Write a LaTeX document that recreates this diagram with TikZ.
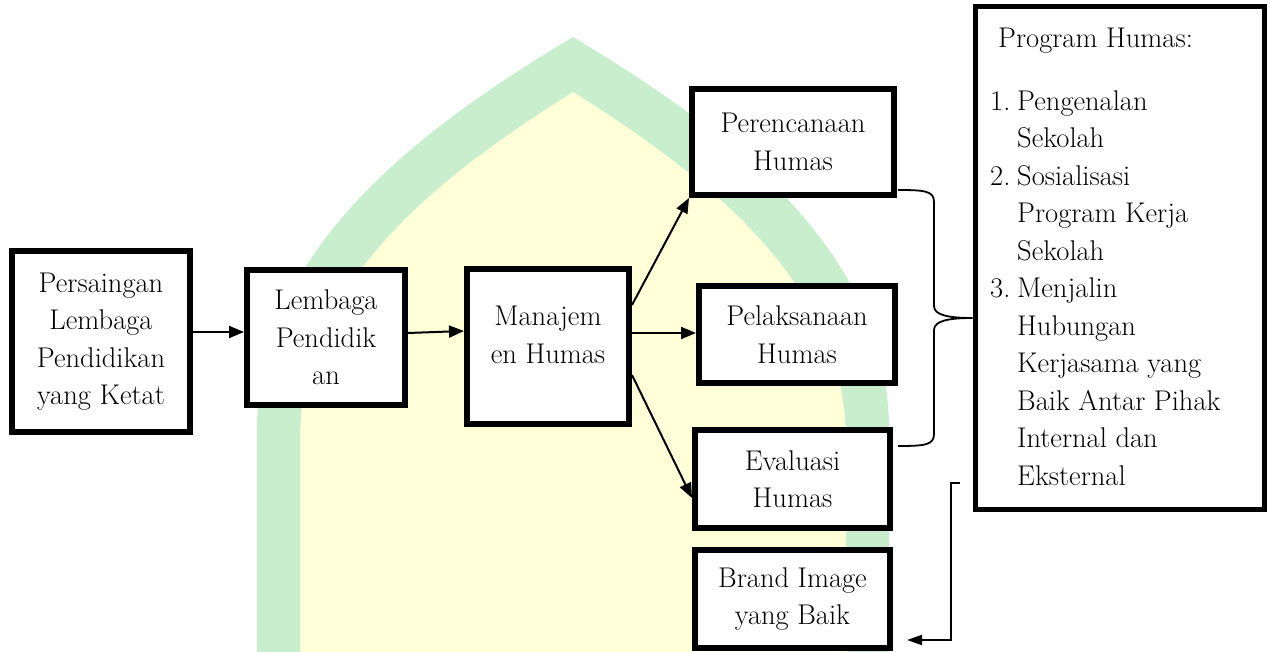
\documentclass[tikz,border=0pt]{standalone}
\usetikzlibrary{arrows.meta,calc}
\definecolor{wmgreen}{RGB}{200,238,205}
\definecolor{wmyellow}{RGB}{255,255,216}
\begin{document}
\begin{tikzpicture}[x=1pt,y=-1pt,
  box/.style={draw=black, line width=6pt, fill=white, align=center, inner sep=0pt,
    font=\fontsize{28.5}{37.5}\selectfont},
  txt/.style={align=center, inner sep=0pt, font=\fontsize{28.5}{37.5}\selectfont},
  conn/.style={line width=2pt, -{Triangle[length=15pt,width=12pt]}},
  thinline/.style={line width=1.8pt}
]
\useasboundingbox (0,0) rectangle (1270,652);
% watermark arch
\fill[wmgreen] (257,652) -- (257,430) .. controls (257,250) and (418,130) .. (573,37)
  .. controls (728,130) and (889,250) .. (889,430) -- (889,652) -- cycle;
\fill[wmyellow] (300,652) -- (300,440) .. controls (300,280) and (446,172) .. (573,92)
  .. controls (700,172) and (846,280) .. (846,440) -- (846,652) -- cycle;

% boxes
\node[box, minimum width=178pt, minimum height=181pt] (a) at (101,341.5)
  {Persaingan\\Lembaga\\Pendidikan\\yang Ketat};
\node[box, minimum width=158pt, minimum height=135pt] (b) at (326,337.5)
  {Lembaga\\Pendidik\\an};
\node[box, minimum width=162pt, minimum height=155pt] (m) at (548,346.5) {};
\node[txt] (mt) at (548,335) {Manajem\\en Humas};
\node[box, minimum width=202pt, minimum height=106pt] (p) at (793,142)
  {Perencanaan\\Humas};
\node[box, minimum width=196pt, minimum height=97pt] (l) at (797,334.5)
  {Pelaksanaan\\Humas};
\node[box, minimum width=195pt, minimum height=97pt] (e) at (792.5,479)
  {Evaluasi\\Humas};
\node[box, minimum width=195pt, minimum height=98pt] (g) at (792.5,599)
  {Brand Image\\yang Baik};
\node[box, line width=5pt, minimum width=289pt, minimum height=502pt] (h) at (1119.5,258) {};
\node[txt, align=left, anchor=north west] (ht) at (990,27.5)
  {\hspace*{8pt}Program Humas:\\[25.5pt]
   \makebox[27pt][l]{1.}Pengenalan\\
   \hspace*{27pt}Sekolah\\
   \makebox[27pt][l]{2.}Sosialisasi\\
   \hspace*{27pt}Program Kerja\\
   \hspace*{27pt}Sekolah\\
   \makebox[27pt][l]{3.}Menjalin\\
   \hspace*{27pt}Hubungan\\
   \hspace*{27pt}Kerjasama yang\\
   \hspace*{27pt}Baik Antar Pihak\\
   \hspace*{27pt}Internal dan\\
   \hspace*{27pt}Eksternal};

% connectors
\draw[conn] (a.east |- 0,332) -- (b.west |- 0,332);
\draw[conn] (b.east |- 0,333) -- (m.west |- 0,331);
\draw[conn] (m.east |- 0,305) -- (p.south west);
\draw[conn] (m.east |- 0,333) -- (l.west |- 0,333);
\draw[conn] (m.east |- 0,375) -- (e.west |- 0,498);

% brace
\coordinate (bt) at (898,190);
\coordinate (bb) at (898,446);
\draw[thinline] (bt) .. controls (925,190) and (934,191) .. (934,202) -- (934,306)
  .. controls (934,315) and (948,318) .. (h.west |- 0,318)
  .. controls (948,318) and (934,321) .. (934,330) -- (934,434)
  .. controls (934,445) and (925,446) .. (bb);

% feedback arrow to brand image
\coordinate (bs) at (960,483);
\draw[thinline, -{Triangle[length=15pt,width=10pt]}] (bs) -- (951,483) -- (951,640)
  -- ($(g.east |- 0,640)+(14,0)$);
\end{tikzpicture}
\end{document}
